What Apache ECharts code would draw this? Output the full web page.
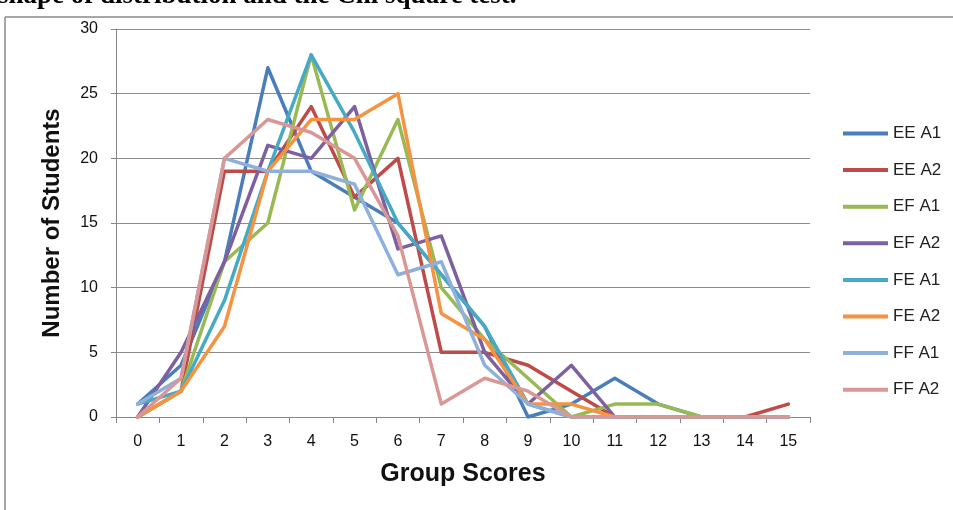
<!DOCTYPE html>
<html>
<head>
<meta charset="utf-8">
<script src="https://cdn.jsdelivr.net/npm/echarts@6/dist/echarts.min.js"></script>
<style>
html,body{margin:0;padding:0;background:#fff;}
#chart{width:953px;height:510px;}
</style>
</head>
<body>
<div id="chart"></div>
<script>
const categories = ['0','1','2','3','4','5','6','7','8','9','10','11','12','13','14','15'];
const seriesNames = ['EE A1','EE A2','EF A1','EF A2','FE A1','FE A2','FF A1','FF A2'];
const eeA1 = [1,4,12,27,19,17,15,11,7,0,1,3,1,0,0,0];
const eeA2 = [0,2,19,19,24,17,20,5,5,4,2,0,0,0,0,1];
const efA1 = [0,2,12,15,28,16,23,10,6,3,0,1,1,0,0,0];
const efA2 = [0,5,12,21,20,24,13,14,5,1,4,0,0,0,0,0];
const feA1 = [1,2,9,19,28,22,15,11,7,1,0,0,0,0,0,0];
const feA2 = [0,2,7,19,23,23,25,8,6,1,1,0,0,0,0,0];
const ffA1 = [1,3,20,19,19,18,11,12,4,1,0,0,0,0,0,0];
const ffA2 = [0,3,20,23,22,20,14,1,3,2,0,0,0,0,0,0];
const yTicks = {min:0, max:30, interval:5};
const colors = ['#4a7ebb','#be4b48','#98b954','#7d60a0','#46aac5','#f69240','#8fb0da','#d99795'];
const allData = [eeA1,eeA2,efA1,efA2,feA1,feA2,ffA1,ffA2];

const chart = echarts.init(document.getElementById('chart'));
const font = '"Liberation Sans", Arial, sans-serif';
chart.setOption({
  animation:false,
  grid:{left:116,right:143,top:29,bottom:93},
  graphic:[
    {type:'line',shape:{x1:5,y1:17,x2:953,y2:17},style:{stroke:'#8a8a8a',lineWidth:1.5}},
    {type:'line',shape:{x1:5,y1:17,x2:5,y2:510},style:{stroke:'#8a8a8a',lineWidth:1.5}},
    {type:'text',left:-2,top:-17,style:{text:'shape of distribution and the Chi square test.',font:'bold 27px "Liberation Serif", "Times New Roman", serif',fill:'#000'}}
  ],
  legend:{
    orient:'vertical',left:838,top:120,
    data:seriesNames,
    icon:'rect',itemWidth:45,itemHeight:4,itemGap:19.6,
    textStyle:{fontFamily:font,fontSize:17,color:'#222',lineHeight:17}
  },
  xAxis:{
    type:'category',data:categories,boundaryGap:true,
    axisLine:{lineStyle:{color:'#868686',width:1}},
    axisTick:{show:true,interval:0,length:6,lineStyle:{color:'#868686'}},
    axisLabel:{fontFamily:font,fontSize:16,color:'#111',margin:17,interval:0},
    name:'Group Scores',nameLocation:'middle',nameGap:45,
    nameTextStyle:{fontFamily:font,fontSize:25,fontWeight:'bold',color:'#111'}
  },
  yAxis:{
    type:'value',min:yTicks.min,max:yTicks.max,interval:yTicks.interval,
    axisLine:{show:true,lineStyle:{color:'#868686',width:1}},
    axisTick:{show:true,length:5,lineStyle:{color:'#868686'}},
    splitLine:{lineStyle:{color:'#8c8c8c',width:1}},
    axisLabel:{fontFamily:font,fontSize:16,color:'#111',margin:18},
    name:'Number of Students',nameLocation:'middle',nameRotate:90,nameGap:52,
    nameTextStyle:{fontFamily:font,fontSize:24,fontWeight:'bold',color:'#111'}
  },
  series: seriesNames.map((n,i)=>({
    name:n,type:'line',data:allData[i],symbol:'none',
    lineStyle:{color:colors[i],width:3.5,cap:'round',join:'round'},
    itemStyle:{color:colors[i]}
  }))
});
</script>
</body>
</html>
